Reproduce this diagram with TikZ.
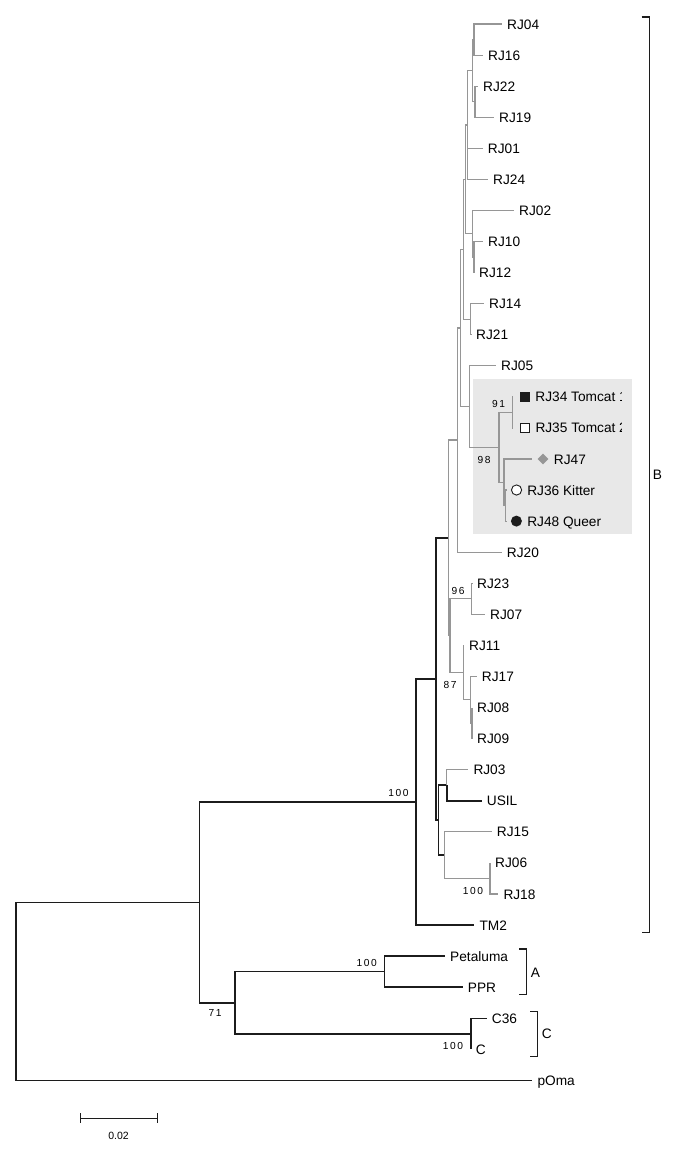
\documentclass[tikz,border=0pt]{standalone}
\usepackage{fontspec}
\setmainfont{Liberation Sans}
\newfontfamily\bootfont[LetterSpace=16]{Liberation Sans}
\usetikzlibrary{shapes.geometric, positioning}
\definecolor{treegrey}{HTML}{969696}
\definecolor{treeblack}{HTML}{1C1C1C}
\definecolor{boxgrey}{HTML}{E8E8E8}

\begin{document}
\begin{tikzpicture}[x=1pt, y=-1pt,
    greybr/.style={draw=treegrey, line width=1.2pt},
    blackbr/.style={draw=treeblack, line width=1.6pt},
    leaf/.style={anchor=west, inner xsep=5pt, inner ysep=0pt, text height=10pt, text depth=0pt, font=\fontsize{13.7}{15}\selectfont},
    boot/.style={inner sep=0pt, font=\bootfont\fontsize{10.2}{11}\selectfont},
    clade/.style={inner sep=0pt, font=\fontsize{13.7}{15}\selectfont},
    bracket/.style={draw=treeblack, line width=1.3pt},
    sqfill/.style={rectangle, fill=treeblack, minimum size=10pt, inner sep=0pt},
    sqopen/.style={rectangle, draw=treeblack, line width=0.9pt, fill=white, minimum size=9.2pt, inner sep=0pt},
    dmd/.style={diamond, fill=treegrey, minimum width=11pt, minimum height=11pt, inner sep=0pt},
    ccopen/.style={circle, draw=treeblack, line width=0.9pt, fill=white, minimum size=10.2pt, inner sep=0pt},
    ccfill/.style={circle, fill=treeblack, minimum size=11pt, inner sep=0pt}
]
    \useasboundingbox (0,0) rectangle (685,1157);

    % Shaded group
    \fill[boxgrey] (472.7,379) rectangle (632,534);

    % Internal nodes
    \coordinate (root) at (16,991.4);
    \coordinate (ingroup) at (199.3,902.4);
    \coordinate (nAC) at (235,1002.7);
    \coordinate (nA) at (384.3,971.6);
    \coordinate (nC) at (470.7,1033.8);
    \coordinate (nB) at (416,802);
    \coordinate (nB3) at (435.7,679);
    \coordinate (nB2) at (448.3,537.9);
    \coordinate (nup) at (457.7,440);
    \coordinate (nt5) at (460.7,327.9);
    \coordinate (nt4) at (463.5,249.3);
    \coordinate (nt3) at (465.7,179.4);
    \coordinate (nt2) at (467.7,125);
    \coordinate (nt1) at (472.7,70.6);
    \coordinate (n0416) at (474,39.6);
    \coordinate (n2219) at (475,101.7);
    \coordinate (n0210) at (472.3,233.7);
    \coordinate (n1012) at (474,257.1);
    \coordinate (n1421) at (470.7,319.2);
    \coordinate (n05) at (469.3,406.6);
    \coordinate (n98) at (499,447.3);
    \coordinate (n91) at (512.3,412.3);
    \coordinate (n4736) at (504,482.3);
    \coordinate (n3648) at (505.7,505.6);
    \coordinate (nmid) at (450,635.7);
    \coordinate (n96) at (471.7,598.8);
    \coordinate (n87) at (463.3,672.6);
    \coordinate (n17) at (470.7,699.8);
    \coordinate (n0809) at (472,723.1);
    \coordinate (nlowB) at (438.3,820.2);
    \coordinate (n0usil) at (446.7,785.2);
    \coordinate (n15) at (444.3,855.1);
    \coordinate (n0618) at (490,878.4);

    % Leaves
    \node[leaf] (rj04) at (502,24) {RJ04};
    \node[leaf] (rj16) at (483,55.1) {RJ16};
    \node[leaf] (rj22) at (478,86.1) {RJ22};
    \node[leaf] (rj19) at (494,117.2) {RJ19};
    \node[leaf] (rj01) at (482.7,148.3) {RJ01};
    \node[leaf] (rj24) at (488,179.4) {RJ24};
    \node[leaf] (rj02) at (514,210.4) {RJ02};
    \node[leaf] (rj10) at (483,241.5) {RJ10};
    \node[leaf] (rj12) at (474,272.6) {RJ12};
    \node[leaf] (rj14) at (484,303.6) {RJ14};
    \node[leaf] (rj21) at (471,334.7) {RJ21};
    \node[leaf] (rj05) at (496,365.8) {RJ05};
    \coordinate (rj34) at (512.8,396.8);
    \coordinate (rj35) at (512.8,427.9);
    \coordinate (rj47) at (532.3,459);
    \coordinate (rj36) at (506.2,490);
    \coordinate (rj48) at (506.2,521.1);
    \node[leaf] (rj20) at (501.7,552.2) {RJ20};
    \node[leaf] (rj23) at (472,583.3) {RJ23};
    \node[leaf] (rj07) at (485,614.3) {RJ07};
    \node[leaf] (rj11) at (464,645.4) {RJ11};
    \node[leaf] (rj17) at (476.7,676.5) {RJ17};
    \node[leaf] (rj08) at (472,707.5) {RJ08};
    \node[leaf] (rj09) at (472,738.6) {RJ09};
    \node[leaf] (rj03) at (468.3,769.7) {RJ03};
    \node[leaf] (usil) at (481.7,800.8) {USIL};
    \node[leaf] (rj15) at (491.7,831.8) {RJ15};
    \node[leaf] (rj06) at (490,862.9) {RJ06};
    \node[leaf] (rj18) at (498.3,894) {RJ18};
    \node[leaf] (tm2) at (474.3,925) {TM2};
    \node[leaf] (petaluma) at (445,956.1) {Petaluma};
    \node[leaf] (ppr) at (462.7,987.2) {PPR};
    \node[leaf] (c36) at (486.7,1018.3) {C36};
    \node[leaf] (cc) at (470.7,1049.3) {C};
    \node[leaf] (poma) at (532.3,1080.4) {pOma};

    % Black branches
    \draw[blackbr] (root) |- (ingroup) (root) |- (poma.west);
    \draw[blackbr] (ingroup) |- (nB) (ingroup) |- (nAC);
    \draw[blackbr] (nAC) |- (nA) (nAC) |- (nC);
    \draw[blackbr] (nA) |- (petaluma.west) (nA) |- (ppr.west);
    \draw[blackbr] (nC) |- (c36.west) (nC) |- (cc.west);
    \draw[blackbr] (nB) |- (nB3) (nB) |- (tm2.west);
    \draw[blackbr] (nB3) |- (nB2) (nB3) |- (nlowB);
    \draw[blackbr] (nlowB) |- (n0usil) (nlowB) |- (n15);
    \draw[blackbr] (n0usil) |- (usil.west);

    % Grey branches
    \draw[greybr] (nB2) |- (nup) (nB2) |- (nmid);
    \draw[greybr] (nup) |- (nt5) (nup) |- (rj20.west);
    \draw[greybr] (nt5) |- (nt4) (nt5) |- (n05);
    \draw[greybr] (nt4) |- (nt3) (nt4) |- (n1421);
    \draw[greybr] (nt3) |- (nt2) (nt3) |- (n0210);
    \draw[greybr] (nt2) |- (nt1) (nt2) |- (rj01.west) (nt2) |- (rj24.west);
    \draw[greybr] (nt1) |- (n0416) (nt1) |- (n2219);
    \draw[greybr] (n0416) |- (rj04.west) (n0416) |- (rj16.west);
    \draw[greybr] (n2219) |- (rj22.west) (n2219) |- (rj19.west);
    \draw[greybr] (n0210) |- (rj02.west) (n0210) |- (n1012);
    \draw[greybr] (n1012) |- (rj10.west) (n1012) |- (rj12.west);
    \draw[greybr] (n1421) |- (rj14.west) (n1421) |- (rj21.west);
    \draw[greybr] (n05) |- (rj05.west) (n05) |- (n98);
    \draw[greybr] (n98) |- (n91) (n98) |- (n4736);
    \draw[greybr] (n91) |- (rj34) (n91) |- (rj35);
    \draw[greybr] (n4736) |- (rj47) (n4736) |- (n3648);
    \draw[greybr] (n3648) |- (rj36) (n3648) |- (rj48);
    \draw[greybr] (nmid) |- (n96) (nmid) |- (n87);
    \draw[greybr] (n96) |- (rj23.west) (n96) |- (rj07.west);
    \draw[greybr] (n87) |- (rj11.west) (n87) |- (n17);
    \draw[greybr] (n17) |- (rj17.west) (n17) |- (n0809);
    \draw[greybr] (n0809) |- (rj08.west) (n0809) |- (rj09.west);
    \draw[greybr] (n0usil) |- (rj03.west);
    \draw[greybr] (n15) |- (rj15.west) (n15) |- (n0618);
    \draw[greybr] (n0618) |- (rj06.west) (n0618) |- (rj18.west);

    % Markers and labels in the shaded group
    \node[sqfill, right=7pt of rj34] (m34) {};
    \node[sqopen, right=7.4pt of rj35] (m35) {};
    \node[dmd, right=5pt of rj47] (m47) {};
    \node[ccopen, right=4.8pt of rj36] (m36) {};
    \node[ccfill, right=4.5pt of rj48] (m48) {};
    \begin{scope}
        \clip (472.7,379) rectangle (621.5,534);
        \node[leaf] (lab34) at (m34.east) {RJ34 Tomcat 1};
        \node[leaf] (lab35) at (m35.east) {RJ35 Tomcat 2};
    \end{scope}
    \node[leaf] (lab47) at (m47.east) {RJ47};
    \node[leaf] (lab36) at (m36.east) {RJ36 Kitter};
    \node[leaf] (lab48) at (m48.east) {RJ48 Queer};

    % Bootstrap values
    \node[boot] (bs91) at (498.5,404) {91};
    \node[boot] (bs98) at (484,460) {98};
    \node[boot] (bs96) at (458,590.7) {96};
    \node[boot] (bs87) at (450,685) {87};
    \node[boot] (bs100b) at (398.5,793) {100};
    \node[boot] (bs100s) at (473,890.7) {100};
    \node[boot] (bs100a) at (366.7,962.7) {100};
    \node[boot] (bs100c) at (453,1046) {100};
    \node[boot] (bs71) at (215,1013) {71};

    % Clade brackets
    \draw[bracket] (641.7,17) -| (649.3,932.7) -- (641.7,932.7);
    \node[clade] (labB) at (657.5,475) {B};
    \draw[bracket] (519.3,949) -| (526.7,994.3) -- (519.3,994.3);
    \node[clade] (labA) at (535.5,972.3) {A};
    \draw[bracket] (530,1011.7) -| (537.3,1056.7) -- (530,1056.7);
    \node[clade] (labC) at (546.7,1034) {C};

    % Scale bar
    \coordinate (sbl) at (80,1118);
    \coordinate (sbr) at (157,1118);
    \draw[treeblack, line width=1pt] (sbl) -- (sbr);
    \draw[treeblack, line width=1pt] ([yshift=5pt]sbl) -- ([yshift=-5pt]sbl);
    \draw[treeblack, line width=1pt] ([yshift=5pt]sbr) -- ([yshift=-5pt]sbr);
    \node[inner sep=0pt, font=\fontsize{10.5}{12}\selectfont] (sbtext) at (118.5,1136) {0.02};

\end{tikzpicture}
\end{document}
